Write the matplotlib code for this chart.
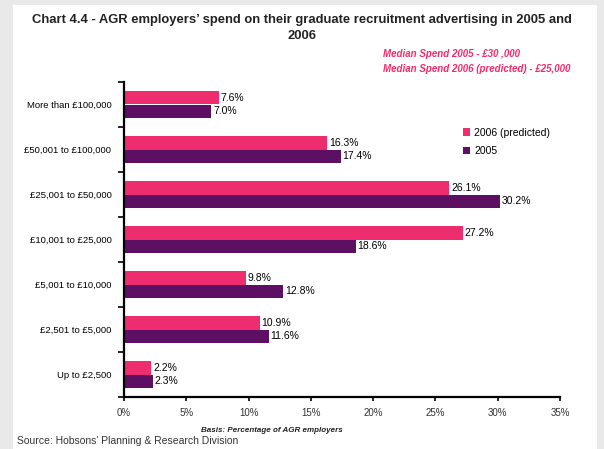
import matplotlib.pyplot as plt
import numpy as np

categories = ["More than £100,000", "£50,001 to £100,000", "£25,001 to £50,000",
              "£10,001 to £25,000", "£5,001 to £10,000", "£2,501 to £5,000", "Up to £2,500"]
spend_2006 = [7.6, 16.3, 26.1, 27.2, 9.8, 10.9, 2.2]
spend_2005 = [7.0, 17.4, 30.2, 18.6, 12.8, 11.6, 2.3]
x_ticks = [0, 5, 10, 15, 20, 25, 30, 35]

pink = "#ee2d6e"
purple = "#5c0f63"

plt.rcParams["font.family"] = ["Liberation Sans", "DejaVu Sans"]

fig = plt.figure(figsize=(6.04, 4.49), dpi=100, facecolor="#e9e9e9")
# white panel inside the grey frame
bg = fig.add_axes([13 / 604, 0, 584 / 604, 444 / 449], zorder=-1)
bg.set_facecolor("white")
bg.set_xticks([])
bg.set_yticks([])
for s in bg.spines.values():
    s.set_visible(False)

ax = fig.add_axes([124 / 604, 1 - 397 / 449, 436 / 604, 315 / 449])
ax.set_facecolor("none")

n = len(categories)
y = np.arange(n)
h = 0.29
ax.barh(y - h / 2, spend_2006, height=h, color=pink, label="2006 (predicted)")
ax.barh(y + h / 2, spend_2005, height=h, color=purple, label="2005")

for yi, v in zip(y, spend_2006):
    ax.text(v + 0.15, yi - h / 2, f"{v:.1f}%", va="center", ha="left", fontsize=7.5)
for yi, v in zip(y, spend_2005):
    ax.text(v + 0.15, yi + h / 2, f"{v:.1f}%", va="center", ha="left", fontsize=7.5)

ax.set_ylim(n - 0.5, -0.5)
ax.set_xlim(0, 35)
ax.set_yticks(y)
ax.set_yticklabels(categories, fontsize=6.8)
ax.set_yticks(np.arange(-0.5, n, 1), minor=True)
ax.tick_params(axis="y", which="major", length=0, pad=9)
ax.tick_params(axis="y", which="minor", length=4, width=1.2, direction="out")
ax.set_xticks(x_ticks)
ax.set_xticklabels([f"{t}%" for t in x_ticks], fontsize=7, color="#333333")
ax.tick_params(axis="x", length=3, width=1.2, direction="out", pad=5)

for s in ["top", "right"]:
    ax.spines[s].set_visible(False)
for s in ["left", "bottom"]:
    ax.spines[s].set_linewidth(1.6)

ax.legend(loc="upper left", bbox_to_anchor=(0.755, 0.885), frameon=False, fontsize=7.5,
          handlelength=0.7, handleheight=0.7, handletextpad=0.4, labelspacing=0.85)

fig.text(0.5, 1 - 28 / 449, "Chart 4.4 - AGR employers’ spend on their graduate recruitment advertising in 2005 and\n2006",
         ha="center", va="center", fontsize=9.4, fontweight="bold", color="#222222", linespacing=1.4)
fig.text(383 / 604, 1 - 54 / 449, "Median Spend 2005 - £30 ,000", ha="left", va="center",
         fontsize=7, fontweight="bold", style="italic", color=pink)
fig.text(383 / 604, 1 - 69 / 449, "Median Spend 2006 (predicted) - £25,000", ha="left", va="center",
         fontsize=7, fontweight="bold", style="italic", color=pink)

fig.text(343 / 604, 1 - 430 / 449, "Basis: Percentage of AGR employers", ha="right", va="center",
         fontsize=5.8, fontweight="bold", style="italic", color="#222222")
fig.text(17 / 604, 1 - 441 / 449, "Source: Hobsons’ Planning & Research Division", ha="left", va="center",
         fontsize=7.5, color="#333333")

fig.savefig("out.png", dpi=100, facecolor=fig.get_facecolor())
